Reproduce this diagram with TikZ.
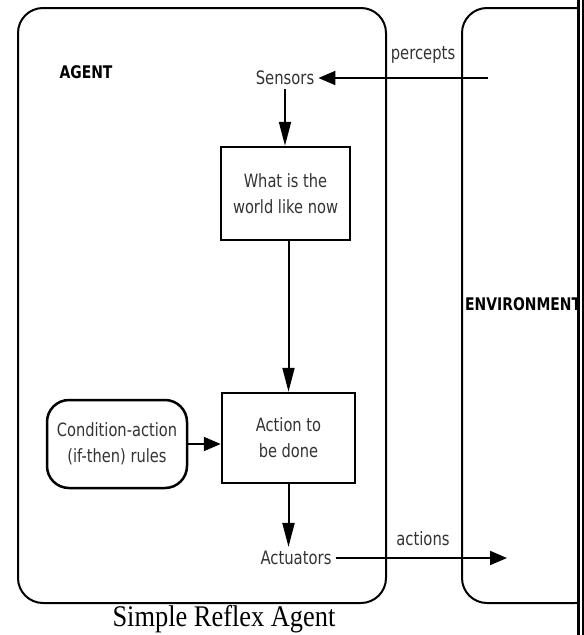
\documentclass[tikz,border=0pt]{standalone}
\usepackage{fontspec}
\setmainfont{Liberation Serif}
\newfontfamily\diagfont{DejaVu Sans}[FakeStretch=0.8]
\newfontfamily\capfont{Liberation Serif}[FakeStretch=0.88]
\usetikzlibrary{arrows.meta}

\tikzset{
    frame/.style={line width=2pt, rounded corners=25pt},
    procbox/.style={draw, line width=2.5pt, align=center, inner sep=0pt,
        font=\diagfont\fontsize{18.3}{26}\selectfont, text=black!80},
    label/.style={inner sep=4pt, font=\diagfont\fontsize{18.5}{20}\selectfont, text=black!80},
    title/.style={inner sep=0pt, font=\diagfont\bfseries\fontsize{17.4}{20}\selectfont},
    vflow/.style={line width=2pt, -{Triangle[length=24pt,width=12pt]}},
    hflow/.style={line width=2pt, -{Triangle[length=17pt,width=14pt]}}
}

\begin{document}
\begin{tikzpicture}[x=1pt, y=-1pt]
    \useasboundingbox (0, 0) rectangle (584, 635);

    % agent and environment frames
    \draw[frame] (18, 8) rectangle (386, 603);
    \begin{scope}
        \clip (450, 0) rectangle (578, 635);
        \draw[frame] (462, 8) rectangle (600, 603);
        \node[title, anchor=west] at (465, 304) (envlabel) {ENVIRONMENT};
    \end{scope}
    \draw[line width=3pt] (578.5, 0) -- (578.5, 635);
    \draw[line width=1.5pt] (583.2, 0) -- (583.2, 635);

    \node[title] at (86, 72) (agentlabel) {AGENT};

    \node[label] at (285, 78) (sensors) {Sensors};
    \node[procbox, minimum width=129pt, minimum height=93pt] at (285.5, 193.5) (world) {What is the\\world like now};
    \node[procbox, minimum width=133pt, minimum height=90pt] at (288.5, 438) (action) {Action to\\be done};
    \node[procbox, rounded corners=22pt, minimum width=140pt, minimum height=88pt] at (117, 444) (rules) {Condition-action\\(if-then) rules};
    \node[label] at (296, 558) (actuators) {Actuators};

    \node[label] at (423, 55) (percepts) {percepts};
    \node[label] at (423, 539) (actions) {actions};
    \coordinate (envin) at (488, 78);
    \coordinate (envout) at (507, 558);

    \draw[hflow] (envin) -- (sensors.east);
    \draw[vflow] (sensors.south) -- (sensors.south |- world.north);
    \draw[vflow] (world.south -| action.north) -- (action.north);
    \draw[hflow] (rules.east) -- (rules.east -| action.west);
    \draw[vflow] (action.south) -- (action.south |- actuators.north);
    \draw[hflow] (actuators.east) -- (envout);

    \node[font=\capfont\fontsize{30}{32}\selectfont] at (224, 619) (caption) {Simple Reflex Agent};
\end{tikzpicture}
\end{document}
